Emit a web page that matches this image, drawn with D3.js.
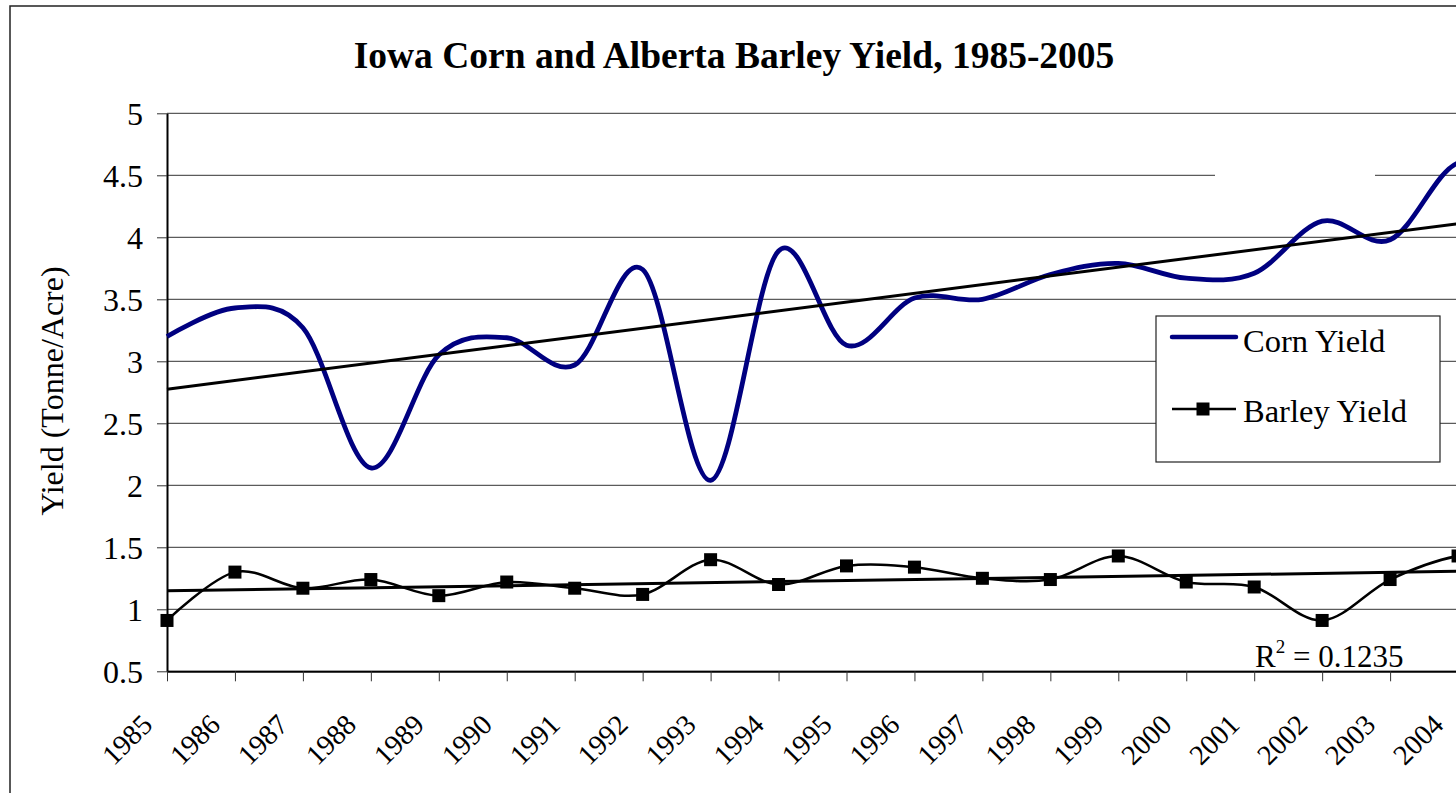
<!DOCTYPE html>
<html>
<head>
<meta charset="utf-8">
<script src="https://cdn.jsdelivr.net/npm/d3@7"></script>
<style>
  body { margin: 0; background: white; }
  svg { display: block; }
  text { font-family: "Liberation Serif", "Times New Roman", serif; fill: black; }
</style>
</head>
<body>
<div id="chart"></div>
<script>
//////////DATA//////////
const years = [1985, 1986, 1987, 1988, 1989, 1990, 1991, 1992, 1993, 1994, 1995,
  1996, 1997, 1998, 1999, 2000, 2001, 2002, 2003, 2004, 2005];
const cornYield = [3.20, 3.43, 3.27, 2.14, 3.05, 3.19, 2.97, 3.74, 2.04, 3.89, 3.13,
  3.51, 3.50, 3.70, 3.79, 3.67, 3.71, 4.13, 3.98, 4.60, 4.39];
const barleyYield = [0.91, 1.30, 1.17, 1.24, 1.11, 1.22, 1.17, 1.12, 1.40, 1.20, 1.35,
  1.34, 1.25, 1.24, 1.43, 1.22, 1.18, 0.91, 1.24, 1.43, 1.44];
const yTicks = [0.5, 1, 1.5, 2, 2.5, 3, 3.5, 4, 4.5, 5];
const seriesNames = ["Corn Yield", "Barley Yield"];
const barleyR2Label = "0.1235";

//////////CODE//////////
const svgObj = { width: 1456, height: 793 };

const plotObj = {
  left: 167,
  top: 113.3,
  bottom: 671.3,
  yearStep: 67.95, // px per year, 2005 ends up outside the picture
  right: function () {
    return this.left + (years.length - 1) * this.yearStep;
  },
};

const x = d3
  .scaleLinear()
  .domain([years[0], years[years.length - 1]])
  .range([plotObj.left, plotObj.right()]);
const y = d3
  .scaleLinear()
  .domain([0.5, 5])
  .range([plotObj.bottom, plotObj.top]);

// least squares fit, same as excel linear trendline
const linearFit = (xs, ys) => {
  const mx = d3.mean(xs);
  const my = d3.mean(ys);
  let sxy = 0;
  let sxx = 0;
  xs.forEach((v, i) => {
    sxy += (v - mx) * (ys[i] - my);
    sxx += (v - mx) * (v - mx);
  });
  const slope = sxy / sxx;
  return (v) => my + slope * (v - mx);
};

const svg = d3
  .select("#chart")
  .append("svg")
  .attr("width", svgObj.width)
  .attr("height", svgObj.height);

// outer chart border (cropped on the right and bottom)
svg
  .append("rect")
  .attr("x", 10)
  .attr("y", 6)
  .attr("width", svgObj.width + 20)
  .attr("height", svgObj.height + 20)
  .attr("fill", "white")
  .attr("stroke", "#222")
  .attr("stroke-width", 1.5);

svg
  .append("text")
  .attr("x", 734)
  .attr("y", 68)
  .attr("text-anchor", "middle")
  .style("font-size", "37.5px")
  .style("font-weight", "bold")
  .text("Iowa Corn and Alberta Barley Yield, 1985-2005");

svg
  .append("text")
  .attr("transform", "translate(63, 391) rotate(-90)")
  .attr("text-anchor", "middle")
  .style("font-size", "32px")
  .text("Yield (Tonne/Acre)");

// gridlines
svg
  .append("g")
  .selectAll("line")
  .data(yTicks)
  .join("line")
  .attr("x1", plotObj.left)
  .attr("x2", plotObj.right())
  .attr("y1", (d) => y(d))
  .attr("y2", (d) => y(d))
  .attr("stroke", "#333")
  .attr("stroke-width", 1);

// empty white label box sitting on the 4.5 gridline
svg
  .append("rect")
  .attr("x", 1215)
  .attr("y", y(4.5) - 12)
  .attr("width", 160)
  .attr("height", 24)
  .attr("fill", "white");

// y axis
const yAxis = svg
  .append("g")
  .attr("transform", `translate(${plotObj.left},0)`)
  .call(d3.axisLeft(y).tickValues(yTicks).tickSize(10).tickSizeOuter(0).tickFormat(d3.format("")));
yAxis.select(".domain").attr("stroke", "black").attr("stroke-width", 2);
yAxis.selectAll(".tick line").attr("stroke", "#333").attr("stroke-width", 1);
yAxis
  .selectAll(".tick text")
  .attr("x", -24)
  .attr("dy", "0.34em")
  .style("font-size", "32px")
  .style("font-family", '"Liberation Serif", serif');

// x axis
const xAxis = svg
  .append("g")
  .attr("transform", `translate(0,${plotObj.bottom})`)
  .call(d3.axisBottom(x).tickValues(years).tickSize(10).tickSizeOuter(0).tickFormat(d3.format("d")));
xAxis.select(".domain").attr("stroke", "black").attr("stroke-width", 2);
xAxis.selectAll(".tick line").attr("stroke", "#333").attr("stroke-width", 1);
xAxis
  .selectAll(".tick text")
  .attr("x", -13.5)
  .attr("y", 55)
  .attr("dy", 0)
  .attr("text-anchor", "end")
  .attr("transform", "rotate(-45, -13.5, 55)")
  .style("font-size", "28.5px")
  .style("font-family", '"Liberation Serif", serif');

const smoothLine = d3
  .line()
  .x((d, i) => x(years[i]))
  .y((d) => y(d))
  .curve(d3.curveCardinal.tension(0));

// corn series
svg
  .append("path")
  .attr("d", smoothLine(cornYield))
  .attr("fill", "none")
  .attr("stroke", "#000080")
  .attr("stroke-width", 4.8)
  .attr("stroke-linejoin", "round");

// barley series
svg
  .append("path")
  .attr("d", smoothLine(barleyYield))
  .attr("fill", "none")
  .attr("stroke", "black")
  .attr("stroke-width", 2.5);

// trendlines
[cornYield, barleyYield].forEach((vals) => {
  const fit = linearFit(years, vals);
  svg
    .append("line")
    .attr("x1", x(years[0]))
    .attr("y1", y(fit(years[0])))
    .attr("x2", x(years[years.length - 1]))
    .attr("y2", y(fit(years[years.length - 1])))
    .attr("stroke", "black")
    .attr("stroke-width", 3);
});

const markerSize = 13;
svg
  .append("g")
  .selectAll("rect")
  .data(barleyYield)
  .join("rect")
  .attr("x", (d, i) => x(years[i]) - markerSize / 2)
  .attr("y", (d) => y(d) - markerSize / 2)
  .attr("width", markerSize)
  .attr("height", markerSize)
  .attr("fill", "black");

// R squared label for barley trend
const r2 = svg
  .append("text")
  .attr("x", 1255)
  .attr("y", 667)
  .style("font-size", "31px");
r2.append("tspan").text("R");
r2.append("tspan").attr("dy", -14).style("font-size", "19px").text("2");
r2.append("tspan").attr("dy", 14).text(" = " + barleyR2Label);

// legend
const legend = svg.append("g").attr("transform", "translate(1156, 316)");
legend
  .append("rect")
  .attr("width", 284)
  .attr("height", 146)
  .attr("fill", "white")
  .attr("stroke", "#222")
  .attr("stroke-width", 1.2);

legend
  .append("line")
  .attr("x1", 16)
  .attr("x2", 80)
  .attr("y1", 21)
  .attr("y2", 21)
  .attr("stroke", "#000080")
  .attr("stroke-width", 4.5)
  .attr("stroke-linecap", "round");
legend
  .append("line")
  .attr("x1", 16)
  .attr("x2", 80)
  .attr("y1", 93)
  .attr("y2", 93)
  .attr("stroke", "black")
  .attr("stroke-width", 2.5);
legend
  .append("rect")
  .attr("x", 47 - markerSize / 2)
  .attr("y", 93 - markerSize / 2)
  .attr("width", markerSize)
  .attr("height", markerSize)
  .attr("fill", "black");

legend
  .selectAll("text.label")
  .data(seriesNames)
  .join("text")
  .attr("class", "label")
  .attr("x", 87)
  .attr("y", (d, i) => 36 + i * 70)
  .style("font-size", "32.5px")
  .text((d) => d);
</script>
</body>
</html>
